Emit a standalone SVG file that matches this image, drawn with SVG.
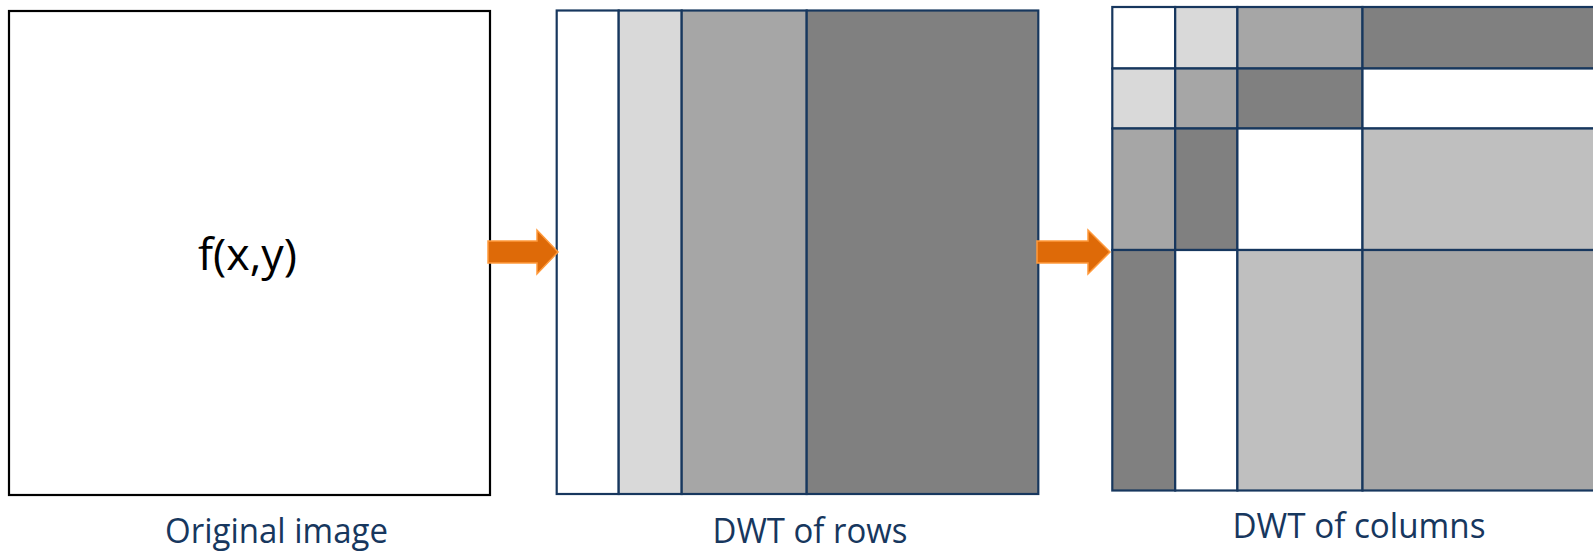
<svg xmlns="http://www.w3.org/2000/svg" width="1593" height="553" viewBox="0 0 1593 553">
  <style>
    .frame { fill: #ffffff; stroke: #000000; stroke-width: 2.2; }
    .cell { stroke: #17375E; stroke-width: 2.2; }
    .w { fill: #ffffff; }
    .g1 { fill: #D9D9D9; }
    .g2 { fill: #A6A6A6; }
    .g3 { fill: #808080; }
    .g4 { fill: #BFBFBF; }
    .arrow { fill: #DE6A08; stroke: #FF9A3C; stroke-width: 1.5; stroke-linejoin: miter; }
    .caption { font-family: "Open Sans", "Liberation Sans", sans-serif; font-size: 34px; fill: #17375E; text-anchor: middle; }
    .func { font-family: "Open Sans", "Liberation Sans", sans-serif; font-size: 44px; fill: #000000; }
  </style>

  <!-- input image -->
  <g id="original">
    <rect class="frame" x="9" y="11" width="481" height="484"/>
    <text class="func" x="198" y="270" textLength="99" lengthAdjust="spacingAndGlyphs">f(x,y)</text>
    <text class="caption" x="276.5" y="543" textLength="223" lengthAdjust="spacingAndGlyphs">Original image</text>
  </g>

  <!-- after row transform: vertical bands -->
  <g id="rows">
    <rect class="cell w" x="556.7" y="10.5" width="62" height="483.5"/>
    <rect class="cell g1" x="618.7" y="10.5" width="63" height="483.5"/>
    <rect class="cell g2" x="681.7" y="10.5" width="125" height="483.5"/>
    <rect class="cell g3" x="806.7" y="10.5" width="231.6" height="483.5"/>
    <text class="caption" x="810" y="543" textLength="195" lengthAdjust="spacingAndGlyphs">DWT of rows</text>
  </g>

  <!-- after column transform: subband grid -->
  <g id="columns">
    <!-- row 0 -->
    <rect class="cell w"  x="1112.3" y="7" width="62.9" height="61.5"/>
    <rect class="cell g1" x="1175.2" y="7" width="62.2" height="61.5"/>
    <rect class="cell g2" x="1237.4" y="7" width="125.1" height="61.5"/>
    <rect class="cell g3" x="1362.5" y="7" width="250" height="61.5"/>
    <!-- row 1 -->
    <rect class="cell g1" x="1112.3" y="68.5" width="62.9" height="60"/>
    <rect class="cell g2" x="1175.2" y="68.5" width="62.2" height="60"/>
    <rect class="cell g3" x="1237.4" y="68.5" width="125.1" height="60"/>
    <rect class="cell w"  x="1362.5" y="68.5" width="250" height="60"/>
    <!-- row 2 -->
    <rect class="cell g2" x="1112.3" y="128.5" width="62.9" height="121.5"/>
    <rect class="cell g3" x="1175.2" y="128.5" width="62.2" height="121.5"/>
    <rect class="cell w"  x="1237.4" y="128.5" width="125.1" height="121.5"/>
    <rect class="cell g4" x="1362.5" y="128.5" width="250" height="121.5"/>
    <!-- row 3 -->
    <rect class="cell g3" x="1112.3" y="250" width="62.9" height="240.5"/>
    <rect class="cell w"  x="1175.2" y="250" width="62.2" height="240.5"/>
    <rect class="cell g4" x="1237.4" y="250" width="125.1" height="240.5"/>
    <rect class="cell g2" x="1362.5" y="250" width="250" height="240.5"/>
    <text class="caption" x="1359" y="538" textLength="253" lengthAdjust="spacingAndGlyphs">DWT of columns</text>
  </g>

  <!-- transform steps -->
  <g id="connectors">
    <polygon class="arrow" points="488,241 537,241 537,230 558,252 537,274 537,263 488,263"/>
    <polygon class="arrow" points="1037,241 1088,241 1088,230 1110,252 1088,274 1088,263 1037,263"/>
  </g>
</svg>
